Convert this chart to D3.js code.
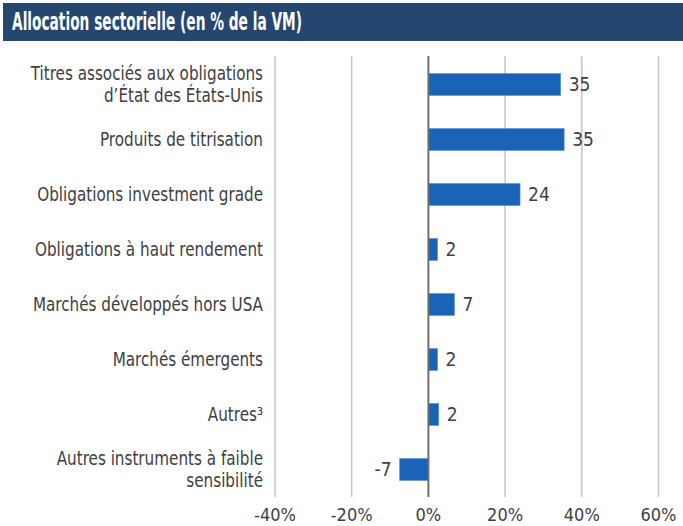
<!DOCTYPE html>
<html>
<head>
<meta charset="utf-8">
<script src="https://cdn.jsdelivr.net/npm/d3@7"></script>
<style>
  body { margin: 0; background: #fff; }
  svg { display: block; font-family: "Liberation Sans Narrow", "DejaVu Sans Condensed", sans-serif; }
</style>
</head>
<body>
<div id="chart"></div>
<script>
// categories (each entry is a list of lines)
const categories = [
  ["Titres associés aux obligations", "d\u2019État des États-Unis"],
  ["Produits de titrisation"],
  ["Obligations investment grade"],
  ["Obligations à haut rendement"],
  ["Marchés développés hors USA"],
  ["Marchés émergents"],
  ["Autres³"],
  ["Autres instruments à faible", "sensibilité"]
];
// % of market value
const values = [34.5, 35.4, 23.9, 2.4, 6.8, 2.4, 2.7, -7.5];
const valueLabels = ["35", "35", "24", "2", "7", "2", "2", "-7"];
const ticks = [-40, -20, 0, 20, 40, 60];
const title = "Allocation sectorielle (en % de la VM)";

const width = 683, height = 526;
const textColor = "#404040";

const svg = d3.select("#chart")
  .append("svg")
  .attr("width", width)
  .attr("height", height);

// title bar
svg.append("rect")
  .attr("x", 3).attr("y", 3)
  .attr("width", width - 3).attr("height", 38)
  .attr("fill", "#24466f");
svg.append("text")
  .attr("x", 12).attr("y", 30)
  .attr("fill", "#fff")
  .attr("font-size", 25)
  .attr("font-weight", "bold")
  .attr("textLength", 290)
  .attr("lengthAdjust", "spacingAndGlyphs")
  .text(title);

const x = d3.scaleLinear().domain([-40, 60]).range([275, 658.5]);
const y = d3.scaleBand()
  .domain(d3.range(categories.length))
  .range([57, 497])
  .paddingInner(0.6)
  .paddingOuter(0.3);

// vertical grid
svg.append("g")
  .selectAll("line")
  .data(ticks.filter(t => t !== 0))
  .join("line")
  .attr("x1", d => x(d)).attr("x2", d => x(d))
  .attr("y1", 56).attr("y2", 497)
  .attr("stroke", "#c6c6c6")
  .attr("stroke-width", 1.5);

// tick labels
svg.append("g")
  .selectAll("text")
  .data(ticks)
  .join("text")
  .attr("x", d => x(d))
  .attr("y", 521)
  .attr("text-anchor", "middle")
  .attr("font-size", 18)
  .attr("fill", textColor)
  .text(d => d + "%");

// bars
svg.append("g")
  .selectAll("rect")
  .data(values)
  .join("rect")
  .attr("x", d => x(Math.min(0, d)))
  .attr("y", (d, i) => y(i))
  .attr("width", d => Math.abs(x(d) - x(0)))
  .attr("height", y.bandwidth())
  .attr("fill", "#1b63b7")
  .attr("stroke", "#5b93d4")
  .attr("stroke-width", 0.6);

// zero line
svg.append("line")
  .attr("x1", x(0)).attr("x2", x(0))
  .attr("y1", 56).attr("y2", 497)
  .attr("stroke", "#6f6f6f")
  .attr("stroke-width", 2);

// value labels
svg.append("g")
  .selectAll("text")
  .data(values)
  .join("text")
  .attr("x", d => d >= 0 ? x(d) + 8 : x(d) - 8)
  .attr("y", (d, i) => y(i) + y.bandwidth() / 2)
  .attr("dy", "0.36em")
  .attr("text-anchor", d => d >= 0 ? "start" : "end")
  .attr("font-size", 19)
  .attr("fill", textColor)
  .text((d, i) => valueLabels[i]);

// category labels, squeezed a little to match the narrow face
const lineH = 22;
svg.append("g")
  .attr("transform", "translate(263,0) scale(0.89,1)")
  .selectAll("text")
  .data(categories)
  .join("text")
  .attr("x", 0)
  .attr("y", (d, i) => y(i) + y.bandwidth() / 2 - (d.length - 1) * lineH / 2)
  .attr("text-anchor", "end")
  .attr("font-size", 19)
  .attr("fill", textColor)
  .each(function(d) {
    d3.select(this).selectAll("tspan")
      .data(d)
      .join("tspan")
      .attr("x", 0)
      .attr("dy", (t, j) => j === 0 ? "0.36em" : lineH)
      .text(t => t);
  });
</script>
</body>
</html>
